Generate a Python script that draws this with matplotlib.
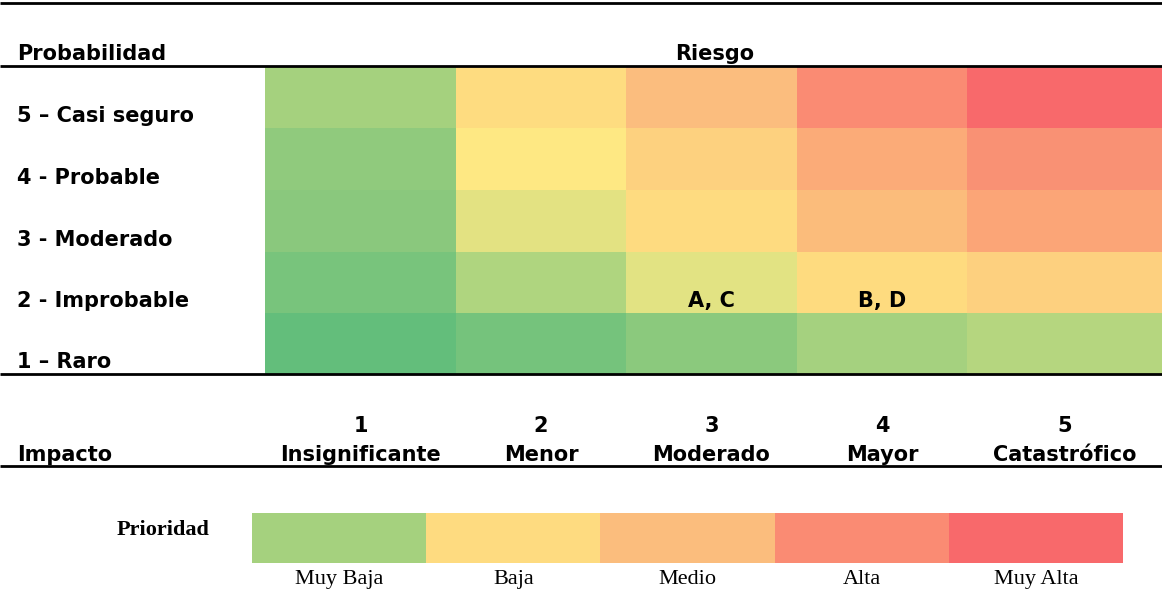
import matplotlib.pyplot as plt
from matplotlib.colors import ListedColormap
import numpy as np

# data
prob_labels = ['5 – Casi seguro', '4 - Probable', '3 - Moderado', '2 - Improbable', '1 – Raro']
impact_nums = ['1', '2', '3', '4', '5']
impact_names = ['Insignificante', 'Menor', 'Moderado', 'Mayor', 'Catastrófico']

# cell colours, rows from probability 5 (top) to 1 (bottom)
risk_colors = [
    ['#A5D17E', '#FEDC80', '#FBBD7E', '#FA8B73', '#F8696B'],
    ['#90CA7D', '#FEE883', '#FDD17F', '#FBAB78', '#F99174'],
    ['#8AC87D', '#E3E282', '#FEDB80', '#FBBC7B', '#FBA577'],
    ['#78C47C', '#AFD57F', '#E2E383', '#FEDB7F', '#FDD07F'],
    ['#63BE7B', '#75C37C', '#8BC97D', '#A5D17F', '#B5D67F'],
]
# risks placed on the matrix: (label, probability, impact)
risk_items = [('A, C', 2, 3), ('B, D', 2, 4)]

prio_labels = ['Muy Baja', 'Baja', 'Medio', 'Alta', 'Muy Alta']
prio_colors = ['#A5D17E', '#FEDB80', '#FBBD7D', '#FA8B73', '#F8696B']

W, H = 1162, 593
fig = plt.figure(figsize=(W / 100, H / 100), dpi=100)
ax = fig.add_axes([0, 0, 1, 1])
ax.set_xlim(0, W)
ax.set_ylim(H, 0)
ax.axis('off')

sans = 'DejaVu Sans'
serif = 'Liberation Serif'
fs = 15

# layout (pixels)
col_edges = np.array([265, 456, 626, 797, 967, 1162])
row_edges = np.array([66, 128, 190, 252, 313, 374])
col_mid = (col_edges[:-1] + col_edges[1:]) / 2

# heatmap
flat = [c for row in risk_colors for c in row]
cmap = ListedColormap(flat)
C = np.arange(len(flat)).reshape(5, 5)
ax.pcolormesh(col_edges, row_edges, C, cmap=cmap, vmin=-0.5, vmax=len(flat) - 0.5)

# horizontal rules
for y in [3, 66, 374, 466]:
    ax.plot([0, W], [y, y], color='black', lw=2.0, solid_capstyle='butt')

def bold(x, y, s, ha='left'):
    ax.text(x, y, s, fontsize=fs, fontweight='bold', family=sans, va='baseline', ha=ha)

# headers
bold(17, 60, 'Probabilidad')
bold(715, 60, 'Riesgo', ha='center')
bold(17, 461, 'Impacto')

for i, lab in enumerate(prob_labels):
    bold(17, row_edges[i + 1] - 6, lab)

for j in range(5):
    bold(col_mid[j], 432, impact_nums[j], ha='center')
    bold(col_mid[j], 461, impact_names[j], ha='center')

for lab, p, imp in risk_items:
    r = 5 - p
    bold(col_mid[imp - 1], row_edges[r + 1] - 6, lab, ha='center')

# priority legend
leg_edges = np.linspace(252, 1123, 6)
ax.pcolormesh(leg_edges, [513, 563], np.arange(5).reshape(1, 5),
              cmap=ListedColormap(prio_colors), vmin=-0.5, vmax=4.5)
ax.text(163, 535, 'Prioridad', fontsize=16, fontweight='bold', family=serif,
        va='baseline', ha='center')
leg_mid = (leg_edges[:-1] + leg_edges[1:]) / 2
for k, lab in enumerate(prio_labels):
    ax.text(leg_mid[k], 584, lab, fontsize=16, family=serif, va='baseline', ha='center')

fig.savefig('out.png', dpi=100)
